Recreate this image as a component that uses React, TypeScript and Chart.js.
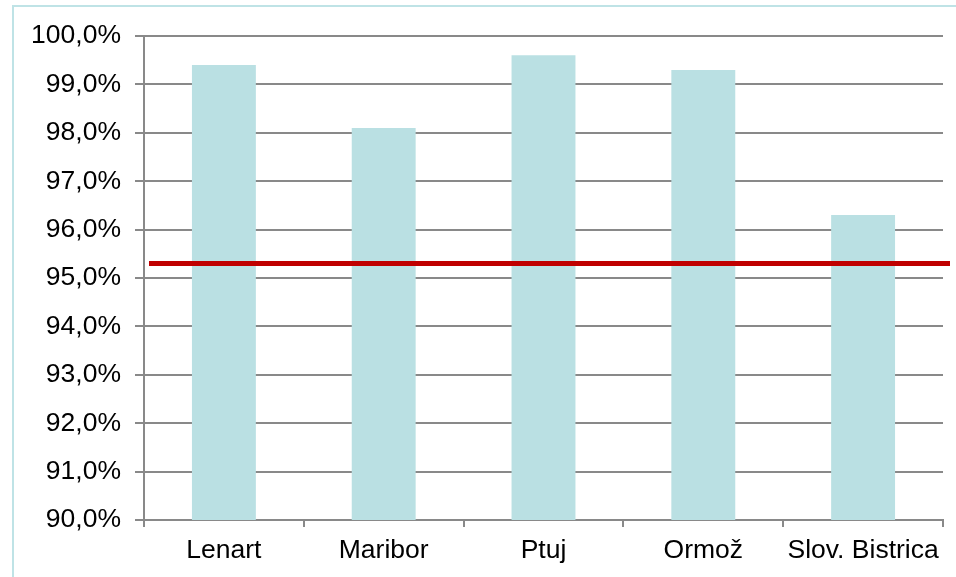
import React, { useEffect, useRef } from "react";
import { Chart, registerables } from "chart.js";

Chart.register(...registerables);

const categories = ["Lenart", "Maribor", "Ptuj", "Ormož", "Slov. Bistrica"];
const shares = [99.4, 98.1, 99.6, 99.3, 96.3];
const targetValue = 95.3;
const yMin = 90;
const yMax = 100;
const yStep = 1;

const W = 956;
const H = 577;

const targetLinePlugin = {
  id: "targetLine",
  afterDatasetsDraw(chart: any) {
    const { ctx, chartArea, scales } = chart;
    const y = scales.y.getPixelForValue(targetValue);
    ctx.save();
    ctx.strokeStyle = "#c00000";
    ctx.lineWidth = 5;
    ctx.beginPath();
    ctx.moveTo(chartArea.left + 5, y);
    ctx.lineTo(chartArea.right + 7, y);
    ctx.stroke();
    ctx.restore();
  },
};

export default function App() {
  const ref = useRef<HTMLCanvasElement | null>(null);

  useEffect(() => {
    if (!ref.current) return;
    const font = { family: "'Liberation Sans', Arial, sans-serif", size: 26.5 };
    const chart = new Chart(ref.current, {
      type: "bar",
      data: {
        labels: categories,
        datasets: [
          {
            data: shares,
            backgroundColor: "#bae0e3",
            borderWidth: 0,
            barPercentage: 0.4,
            categoryPercentage: 1,
          },
        ],
      },
      options: {
        animation: false,
        responsive: false,
        devicePixelRatio: 1,
        layout: { padding: { top: 36, right: 13, left: 0, bottom: 0 } },
        plugins: {
          legend: { display: false },
          tooltip: { enabled: false },
        },
        scales: {
          x: {
            offset: true,
            grid: {
              offset: true,
              drawOnChartArea: false,
              drawTicks: true,
              tickLength: 7,
              color: "#898989",
              lineWidth: 2,
            },
            border: { display: true, color: "#898989", width: 2 },
            ticks: { color: "#000", font, padding: 8, maxRotation: 0, autoSkip: false },
            afterFit: (s: any) => {
              s.height = 57;
            },
          },
          y: {
            min: yMin,
            max: yMax,
            grid: {
              color: "#898989",
              lineWidth: 2,
              drawTicks: true,
              tickLength: 9,
            },
            border: { display: true, color: "#898989", width: 2 },
            ticks: {
              stepSize: yStep,
              color: "#000",
              font,
              padding: 14,
              callback: (v: any) => Number(v).toFixed(1).replace(".", ",") + "%",
            },
            afterFit: (s: any) => {
              s.width = 144;
            },
          },
        },
      },
      plugins: [targetLinePlugin],
    });
    return () => chart.destroy();
  }, []);

  return (
    <div
      style={{
        position: "fixed",
        left: 0,
        top: 0,
        width: W,
        height: H,
        overflow: "hidden",
        background: "#fff",
      }}
    >
      <canvas ref={ref} width={W} height={H} style={{ position: "absolute", left: 0, top: 0 }} />
      <div
        style={{
          position: "absolute",
          left: 12,
          top: 5,
          width: 2000,
          height: 2000,
          border: "2px solid #bfe3e6",
          pointerEvents: "none",
        }}
      />
    </div>
  );
}
